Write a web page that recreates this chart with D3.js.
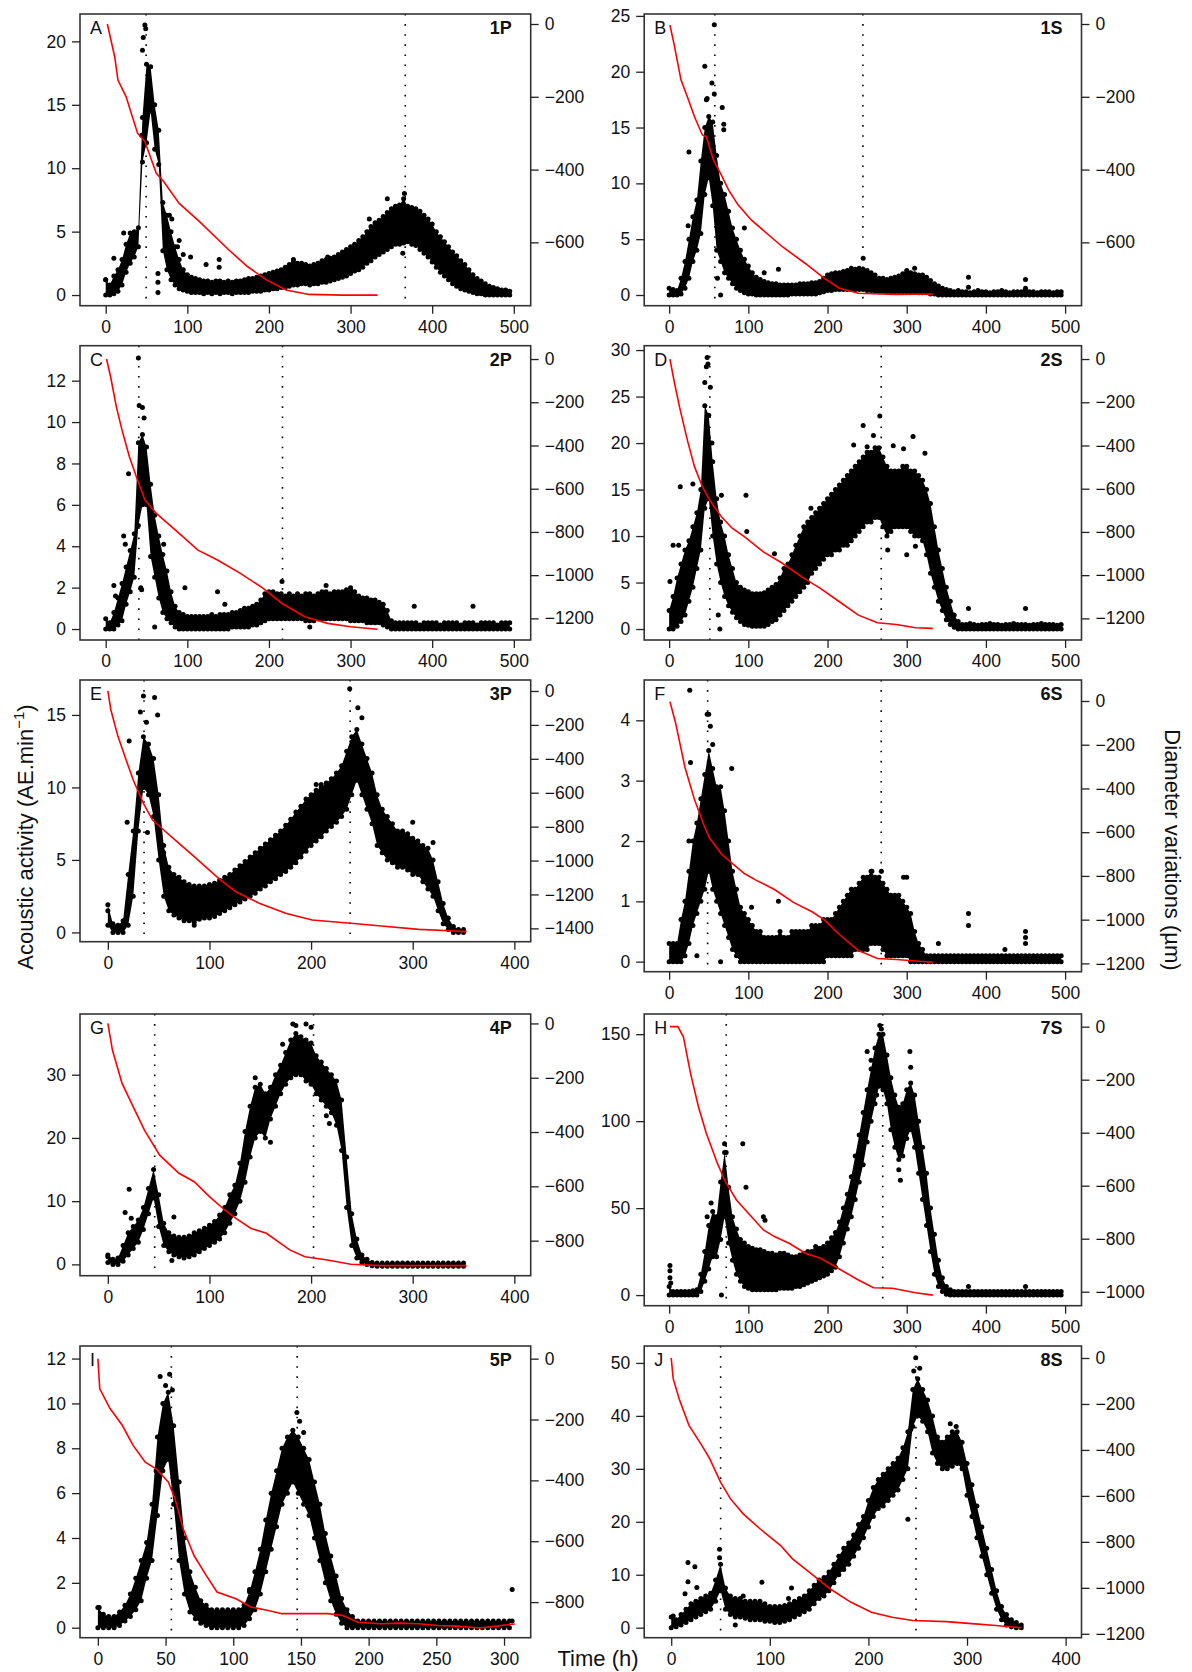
<!DOCTYPE html>
<html>
<head>
<meta charset="utf-8">
<script src="https://cdn.jsdelivr.net/npm/d3@7"></script>
<style>
  body { margin: 0; background: #fff; }
  svg text { font-family: "Liberation Sans", Arial, sans-serif; fill: #111; }
</style>
</head>
<body>
<svg id="chart" width="1192" height="1672"></svg>
<script>
/*
 * Data.
 * hi / lo: upper and lower edge of the acoustic activity cloud (AE.min-1),
 * sampled every STEP hours from t = 0. out: isolated points [t, value].
 * dia: diameter variation (um) as [t, value]. marks: dotted vertical lines (h).
 */

// A - 1P
var aHi = [1.2,0.8,1.5,2.0,2.8,4.0,4.9,5.0,5.3,14.0,
  18.2,18.0,15.0,13.0,7.3,6.3,5.0,3.8,2.8,2.0,
  1.6,1.4,1.3,1.2,1.1,1.1,1.0,1.1,1.1,1.0,
  1.1,1.0,1.1,1.1,1.2,1.3,1.3,1.4,1.5,1.6,
  1.7,1.8,1.9,2.0,2.2,2.4,2.6,2.5,2.5,2.4,
  2.3,2.4,2.5,2.7,2.8,2.9,3.0,3.2,3.4,3.6,
  3.8,4.0,4.3,4.6,5.0,5.4,5.7,5.9,6.2,6.5,
  6.8,7.0,7.1,7.6,7.0,6.9,6.8,6.6,6.3,6.0,
  5.6,5.0,4.6,4.2,3.8,3.4,3.1,2.7,2.4,2.0,
  1.6,1.3,1.1,0.9,0.7,0.6,0.5,0.4,0.4,0.3];
var aLo = [0,0,0.1,0.3,0.8,1.8,2.5,3.0,3.8,10.5,
  12.0,14.5,11.5,10.3,3.5,2.0,1.2,0.8,0.5,0.4,
  0.3,0.2,0.2,0.2,0.1,0.2,0.1,0.2,0.1,0.2,
  0.2,0.1,0.2,0.2,0.2,0.2,0.3,0.3,0.3,0.4,
  0.4,0.5,0.5,0.6,0.6,0.7,0.8,0.8,0.9,0.9,
  0.8,0.9,0.9,1.0,1.0,1.1,1.2,1.3,1.4,1.5,
  1.7,1.9,2.0,2.2,2.5,2.7,3.0,3.2,3.4,3.6,
  3.8,4.0,4.0,4.1,4.2,4.0,3.9,3.6,3.3,3.0,
  2.6,2.2,1.8,1.5,1.2,0.9,0.7,0.5,0.4,0.3,
  0.2,0.1,0.1,0,0,0,0,0,0,0];
var aOut = [[0,1.2],[10,2.9],[22,4.9],[44,12.6],[45,19.3],[46,20.3],[48,21.3],[49,21.0],
  [64,0.2],[64,1.0],[64,1.7],[78,6.3],[81,6.0],[88,3.8],[90,4.3],[95,3.2],[104,3.0],
  [123,2.4],[139,2.2],[139,2.8],[230,2.8],[272,3.0],[323,6.0],[345,7.6],[366,8.0],
  [364,3.3],[405,4.0],[420,3.5]];
var aDia = [[2,0],[11,-90],[15,-154],[25,-200],[39,-300],[48,-323],[62,-410],[71,-433],
  [90,-493],[113,-539],[151,-621],[174,-667],[197,-703],[221,-731],[249,-743],[291,-745],[333,-745]];
var aMarks = [49.5, 367];

// B - 1S
var bHi = [0.6,0.5,0.4,1.5,3.0,5.0,7.0,8.5,12.0,15.0,
  16.0,15.5,12.5,10.0,9.0,7.5,6.0,5.0,4.0,3.2,
  2.6,2.0,1.6,1.4,1.2,1.1,1.0,1.0,0.9,0.9,
  0.9,0.9,0.9,1.0,1.0,1.0,1.1,1.1,1.2,1.5,
  1.8,1.9,2.0,2.0,2.1,2.2,2.4,2.3,2.4,2.3,
  2.2,2.0,1.8,1.5,1.5,1.4,1.5,1.6,1.7,1.9,
  2.0,2.0,1.9,1.8,1.8,1.6,1.3,1.0,0.8,0.6,
  0.5,0.4,0.3,0.4,0.3,0.3,0.2,0.3,0.4,0.3,
  0.3,0.2,0.3,0.3,0.4,0.3,0.2,0.3,0.3,0.3,
  0.4,0.3,0.3,0.2,0.3,0.3,0.3,0.2,0.3,0.3];
var bLo = [0,0,0,0.1,0.6,1.5,3.0,4.0,5.5,9.0,
  10.5,8.0,4.0,3.0,2.0,1.5,1.0,0.6,0.4,0.2,
  0.1,0.1,0,0,0,0,0,0,0,0,
  0,0.1,0.1,0.1,0.1,0.1,0.1,0.1,0.2,0.3,
  0.4,0.4,0.5,0.5,0.5,0.5,0.5,0.5,0.5,0.5,
  0.4,0.4,0.3,0.3,0.3,0.3,0.3,0.3,0.3,0.3,
  0.3,0.3,0.3,0.2,0.2,0.2,0.1,0.1,0,0,
  0,0,0,0,0,0,0,0,0,0,
  0,0,0,0,0,0,0,0,0,0,
  0,0,0,0,0,0,0,0,0,0];
var bOut = [[25,12.8],[24,6.2],[45,20.5],[47,17.5],[48,17.6],[54,19.0],[57,24.2],[57,18.0],
  [67,16.8],[69,15.3],[69,14.8],[95,6.0],[61,1.5],[65,0.0],[120,2.0],[138,2.3],[245,3.3],
  [300,2.2],[310,2.4],[378,1.6],[378,0.7],[450,1.4],[450,0.6]];
var bDia = [[1,-3],[6,-53],[15,-154],[23,-200],[32,-255],[42,-305],[47,-310],[56,-374],[66,-415],
  [75,-456],[87,-497],[104,-539],[143,-612],[172,-658],[196,-699],[215,-726],[239,-740],[287,-743],[333,-742]];
var bMarks = [57.7, 244.7];

// C - 2P
var cHi = [0.5,0.3,0.8,1.5,2.2,3.0,3.8,4.6,9.0,9.4,
  8.8,7.0,5.5,4.5,3.6,2.8,1.8,1.1,0.8,0.7,
  0.6,0.6,0.6,0.6,0.6,0.6,0.7,0.6,0.7,0.7,
  0.7,0.8,0.8,0.9,1.0,1.0,1.1,1.2,1.4,1.7,
  1.8,1.8,1.7,1.7,1.6,1.7,1.6,1.7,1.6,1.7,
  1.7,1.6,1.7,1.8,1.8,1.7,1.8,1.8,1.8,1.9,
  1.9,1.8,1.6,1.5,1.5,1.4,1.4,1.3,1.2,0.9,
  0.4,0.3,0.3,0.3,0.3,0.3,0.3,0.2,0.3,0.3,
  0.3,0.3,0.2,0.3,0.3,0.3,0.3,0.2,0.3,0.3,
  0.3,0.2,0.3,0.3,0.3,0.3,0.2,0.3,0.3,0.3];
var cLo = [0,0,0,0.2,0.4,1.2,1.8,2.5,5.0,6.0,
  6.0,3.5,2.5,1.5,0.8,0.5,0.3,0.1,0,0,
  0,0,0,0,0,0,0,0,0,0,
  0,0.1,0.1,0.1,0.1,0.1,0.2,0.2,0.3,0.4,
  0.5,0.5,0.5,0.5,0.5,0.5,0.5,0.5,0.5,0.4,
  0.4,0.4,0.5,0.5,0.5,0.5,0.5,0.5,0.5,0.5,
  0.4,0.4,0.4,0.4,0.3,0.3,0.3,0.3,0.2,0.1,
  0,0,0,0,0,0,0,0,0,0,
  0,0,0,0,0,0,0,0,0,0,
  0,0,0,0,0,0,0,0,0,0];
var cOut = [[10,2.1],[12,1.6],[22,4.5],[24,4.1],[28,7.5],[40,13.1],[41,10.8],[45,10.7],[47,10.2],
  [43,2.0],[44,1.9],[60,0.1],[71,4.1],[97,2.0],[137,1.8],[146,1.2],[216,2.3],[250,0.1],
  [270,2.1],[300,2.0],[378,1.1],[450,1.1]];
var cDia = [[1,0],[6,-82],[13,-220],[20,-329],[29,-452],[39,-560],[48,-652],[62,-714],[76,-760],
  [90,-807],[113,-884],[137,-930],[165,-992],[193,-1061],[216,-1131],[244,-1192],[272,-1223],[300,-1239],[333,-1250]];
var cMarks = [40.6, 216.6];

// D - 2S
var dHi = [2.0,3.5,5.5,7.0,8.5,9.5,11.0,12.5,15.0,24.0,
  23.0,18.0,14.0,11.5,10.0,8.0,6.5,5.0,4.5,4.2,
  4.0,3.8,3.8,3.8,3.9,4.2,4.5,4.8,5.5,6.5,
  7.0,8.0,9.0,10.0,11.0,11.5,12.0,12.5,13.0,13.5,
  14.0,14.5,15.0,15.5,16.0,16.5,17.0,17.5,18.0,18.5,
  19.0,19.0,19.5,19.5,18.5,17.5,17.0,17.0,17.0,17.5,
  17.5,17.0,17.0,16.5,16.0,15.0,13.5,11.0,8.5,6.5,
  4.5,3.0,1.5,0.8,0.5,0.5,0.6,0.5,0.4,0.5,
  0.5,0.6,0.5,0.5,0.4,0.5,0.5,0.6,0.5,0.5,
  0.5,0.4,0.5,0.5,0.6,0.5,0.5,0.5,0.4,0.5];
var dLo = [0,0,0.3,0.8,1.5,3.0,4.5,6.5,8.5,13.0,
  14.0,10.0,7.0,5.0,3.5,2.5,1.8,1.2,0.8,0.5,
  0.4,0.3,0.3,0.3,0.3,0.5,0.8,1.0,1.5,2.0,
  2.5,3.0,3.5,4.0,4.5,5.0,6.0,6.5,7.0,7.5,
  8.0,8.0,8.5,8.5,9.0,9.0,9.5,10.0,10.5,11.0,
  11.5,11.5,12.0,12.0,11.0,10.0,10.5,11.0,11.0,11.0,
  11.0,10.5,10.0,10.0,9.5,8.0,6.0,4.5,3.0,2.0,
  1.0,0.5,0.2,0,0,0,0,0,0,0,
  0,0,0,0,0,0,0,0,0,0,
  0,0,0,0,0,0,0,0,0,0];
var dOut = [[1,5.1],[5,9.0],[12,9.0],[14,15.3],[30,15.6],[45,26.5],[47,28.2],[48,29.2],[49,28.5],
  [52,26.0],[54,20.0],[66,14.4],[62,1.5],[64,0.0],[97,14.4],[98,10.5],[133,8.1],[179,13.0],
  [210,14.5],[233,19.8],[245,21.9],[250,19.6],[258,20.8],[266,22.9],[276,8.5],[283,19.7],
  [296,19.4],[308,20.7],[323,18.9],[311,8.9],[300,8.0],[378,2.2],[450,2.2]];
var dDia = [[1,0],[6,-97],[13,-220],[23,-375],[32,-498],[42,-591],[51,-652],[66,-730],[80,-784],
  [95,-822],[119,-892],[143,-945],[167,-1007],[191,-1061],[215,-1123],[239,-1185],[263,-1220],
  [287,-1228],[311,-1243],[333,-1246]];
var dMarks = [51.4, 267.8];

// E - 3P
var eHi = [1.9,0.6,0.5,0.8,4.0,7.0,11.0,13.5,13.0,12.0,
  9.5,6.0,4.5,4.0,3.8,3.5,3.3,3.2,3.2,3.2,
  3.3,3.4,3.6,3.8,4.0,4.3,4.6,4.9,5.2,5.5,
  5.8,6.1,6.4,6.7,7.0,7.4,7.8,8.3,8.7,9.2,
  9.5,9.8,10.0,10.3,10.6,11.0,11.5,12.5,13.5,14.0,
  13.0,12.0,11.0,9.5,8.5,8.0,7.5,7.0,7.0,6.8,
  6.5,6.3,6.0,5.8,5.0,3.5,2.0,1.0,0.4,0.2,
  0.2];
var eLo = [0.5,0,0,0,0.5,2.5,7.0,10.0,9.5,8.0,
  5.0,2.5,1.5,1.2,1.0,0.8,0.8,0.7,0.9,1.0,
  1.0,1.1,1.3,1.5,1.7,1.9,2.1,2.3,2.5,2.7,
  3.0,3.2,3.5,3.7,4.0,4.2,4.5,4.8,5.2,5.6,
  6.0,6.3,6.6,7.0,7.3,7.6,8.0,8.5,9.5,10.5,
  9.5,8.5,7.5,6.0,5.5,5.0,4.8,4.5,4.5,4.3,
  4.0,4.0,3.5,3.0,2.5,1.5,0.6,0.2,0,0,
  0];
var eOut = [[0,1.5],[19,7.6],[21,13.2],[35,16.3],[32,15.2],[38,14.5],[46,16.2],[49,15.0],[39,6.9],
  [55,5.5],[85,0.5],[149,5.5],[205,10.2],[210,10.2],[238,16.8],[246,15.5],[250,14.8],[300,7.6],[320,6.2]];
var eDia = [[0,0],[3,-112],[10,-269],[18,-407],[25,-525],[35,-663],[44,-761],[55,-820],[70,-899],
  [85,-977],[96,-1036],[111,-1115],[126,-1184],[149,-1252],[175,-1311],[201,-1351],[239,-1370],
  [269,-1386],[306,-1406],[336,-1414],[353,-1419]];
var eMarks = [35.6, 238.4];

// F - 6S
var fHi = [0.3,0.3,0.3,0.7,1.0,1.5,2.0,2.3,2.7,3.1,
  3.5,3.2,2.9,2.9,2.5,2.0,1.5,1.2,0.9,0.8,
  0.7,0.6,0.5,0.5,0.4,0.4,0.4,0.4,0.5,0.4,
  0.4,0.5,0.5,0.5,0.5,0.5,0.6,0.6,0.6,0.7,
  0.7,0.7,0.8,0.9,1.0,1.1,1.2,1.2,1.3,1.4,
  1.4,1.5,1.4,1.4,1.3,1.2,1.1,1.1,1.1,1.0,
  0.9,0.8,0.5,0.3,0.2,0.1,0.1,0.1,0.1,0.1,
  0.1,0.1,0.1,0.1,0.1,0.1,0.1,0.1,0.1,0.1,
  0.1,0.1,0.1,0.1,0.1,0.1,0.1,0.1,0.1,0.1,
  0.1,0.1,0.1,0.1,0.1,0.1,0.1,0.1,0.1,0.1];
var fLo = [0,0,0,0,0.1,0.3,0.6,0.8,1.0,1.2,
  1.5,1.2,1.0,0.8,0.6,0.4,0.2,0.1,0,0,
  0,0,0,0,0,0,0,0,0,0,
  0,0,0,0,0,0,0,0,0,0,
  0.1,0.1,0.1,0.1,0.1,0.1,0.1,0.2,0.2,0.2,
  0.2,0.3,0.3,0.3,0.2,0.1,0.1,0.1,0.1,0.1,
  0.1,0,0,0,0,0,0,0,0,0,
  0,0,0,0,0,0,0,0,0,0,
  0,0,0,0,0,0,0,0,0,0,
  0,0,0,0,0,0,0,0,0,0];
var fOut = [[26,4.5],[27,3.3],[25,2.0],[35,0.1],[48,4.1],[50,4.1],[52,3.9],[55,3.6],[79,3.2],
  [65,0.0],[104,0.9],[138,1.0],[268,1.5],[256,1.5],[296,1.4],[300,1.4],[340,0.3],[378,0.8],
  [378,0.6],[424,0.2],[450,0.5],[450,0.4],[450,0.3]];
var fDia = [[1,-3],[8,-98],[20,-304],[32,-451],[44,-568],[51,-627],[66,-700],[80,-744],[95,-789],
  [109,-818],[133,-862],[157,-921],[181,-965],[196,-1001],[215,-1068],[239,-1141],[263,-1178],
  [287,-1182],[311,-1189],[333,-1195]];
var fMarks = [48.6, 267.8];

// G - 4P
var gHi = [1.5,0.8,1.0,3.0,5.0,6.0,7.0,9.0,12.0,15.0,
  11.0,6.5,5.0,4.5,4.3,4.3,4.5,5.0,5.3,5.7,
  6.2,6.8,7.8,9.0,11.0,12.5,16.0,21.0,25.0,28.0,
  28.5,27.0,28.0,30.0,31.5,33.5,35.5,36.5,36.0,35.5,
  35.0,33.0,32.0,31.0,30.0,29.0,26.0,17.0,8.0,4.0,
  1.5,0.8,0.3,0.2,0.2,0.2,0.2,0.2,0.2,0.2,
  0.2,0.2,0.2,0.2,0.2,0.2,0.2,0.2,0.2,0.2,
  0.2];
var gLo = [0.3,0,0,0.5,1.5,2.5,3.5,5.5,8.0,10.5,
  6.0,3.0,2.0,1.5,1.2,1.0,1.2,1.5,2.0,2.5,
  3.0,3.5,4.0,5.0,6.5,8.0,10.0,13.0,17.0,20.0,
  21.0,20.0,23.0,25.0,27.0,28.5,29.5,30.0,30.0,29.0,
  28.5,27.0,26.0,25.0,24.0,22.0,18.0,9.0,3.0,1.0,
  0.3,0,-0.2,-0.3,-0.3,-0.3,-0.3,-0.3,-0.3,-0.3,
  -0.3,-0.3,-0.3,-0.3,-0.3,-0.3,-0.3,-0.3,-0.3,-0.3,
  -0.3];
var gOut = [[0,1.2],[17,8.2],[21,11.9],[23,7.3],[65,7.5],[63,0.6],[145,29.5],[160,19.3],
  [172,34.8],[182,38.0],[185,37.8],[195,38.0],[200,37.5],[215,23.5],[218,22.3]];
var gDia = [[0,0],[4.5,-98],[14,-221],[25,-307],[36,-393],[51,-485],[70,-552],[85,-583],[100,-638],
  [115,-687],[126,-718],[141,-755],[156,-773],[179,-834],[194,-859],[216,-871],[239,-887],
  [269,-892],[306,-892],[353,-892]];
var gMarks = [46.1, 202.4];

// H - 7S
var hHi = [5.0,2.0,2.0,2.0,2.0,2.0,2.5,3.0,12.0,25.0,
  40.0,48.0,45.0,65.0,82.0,62.0,45.0,38.0,32.0,30.0,
  28.0,27.0,26.0,26.0,25.0,24.0,24.0,23.0,24.0,24.0,
  23.0,22.0,22.0,23.0,24.0,25.0,25.0,26.0,27.0,28.0,
  30.0,33.0,36.0,42.0,50.0,58.0,68.0,80.0,92.0,105.0,
  118.0,130.0,142.0,150.0,150.0,138.0,125.0,115.0,108.0,110.0,
  118.0,122.0,115.0,100.0,85.0,70.0,50.0,35.0,20.0,10.0,
  5.0,3.0,2.0,2.0,2.0,2.0,2.0,2.0,2.0,2.0,
  2.0,2.0,2.0,2.0,2.0,2.0,2.0,2.0,2.0,2.0,
  2.0,2.0,2.0,2.0,2.0,2.0,2.0,2.0,2.0,2.0];
var hLo = [0,0,0,0,0,0,0,0,2.0,8.0,
  15.0,22.0,22.0,32.0,45.0,30.0,20.0,12.0,8.0,5.0,
  4.0,3.0,3.0,3.0,3.0,3.0,3.0,3.0,4.0,4.0,
  4.0,4.0,5.0,5.0,6.0,7.0,8.0,9.0,10.0,11.0,
  12.0,14.0,16.0,22.0,30.0,38.0,45.0,55.0,65.0,75.0,
  88.0,100.0,110.0,120.0,118.0,110.0,95.0,85.0,78.0,80.0,
  90.0,95.0,85.0,70.0,55.0,40.0,25.0,12.0,5.0,2.0,
  0.5,0,0,0,0,0,0,0,0,0,
  0,0,0,0,0,0,0,0,0,0,
  0,0,0,0,0,0,0,0,0,0];
var hOut = [[1,17.0],[1,14.0],[1,10.0],[2,7.0],[48,45.0],[53,53.0],[66,0.0],[70,87.0],[72,82.0],
  [93,87.0],[97,62.0],[119,45.0],[121,43.0],[185,28.0],[250,140.0],[255,135.0],[266,155.0],
  [268,153.0],[262,115.0],[290,72.0],[292,66.0],[304,140.0],[305,131.0],[378,5.0],[450,5.0]];
var hDia = [[1,0],[11,0],[18,-38],[27,-176],[37,-302],[47,-403],[61,-516],[71,-585],[85,-654],
  [104,-717],[119,-767],[133,-792],[152,-818],[172,-855],[191,-874],[210,-906],[239,-956],
  [258,-985],[282,-987],[311,-1004],[333,-1013]];
var hMarks = [72.1, 269.7];

// I - 5P (sampled every 4 h)
var iHi = [0.9,0.6,0.5,0.5,0.7,1.0,1.5,2.2,3.0,3.8,
  5.5,8.5,10.0,10.5,9.0,6.5,4.0,2.5,1.8,1.2,
  1.0,0.8,0.8,0.8,0.8,0.8,0.8,1.0,1.6,2.5,
  3.5,4.8,6.0,7.0,8.0,8.5,8.8,8.5,8.0,7.5,
  6.5,5.5,4.2,3.2,2.3,1.3,0.8,0.5,0.3,0.3,
  0.3,0.3,0.3,0.3,0.3,0.3,0.3,0.3,0.3,0.3,
  0.3,0.3,0.3,0.3,0.3,0.3,0.3,0.3,0.3,0.3,
  0.3,0.3,0.3,0.3,0.3,0.3,0.3];
var iLo = [0,0,0,0,0.1,0.3,0.5,0.8,1.2,2.2,
  3.0,5.0,7.0,7.5,5.5,3.0,1.5,0.7,0.4,0.2,
  0.1,0,0,0,0,0,0,0.1,0.4,0.8,
  1.5,2.5,3.5,4.5,5.5,6.0,6.5,6.0,5.5,5.0,
  4.0,3.0,2.0,1.2,0.6,0.2,0,0,0,0,
  0,0,0,0,0,0,0,0,0,0,
  0,0,0,0,0,0,0,0,0,0,
  0,0,0,0,0,0,0];
var iOut = [[1,0.9],[43,7.0],[46,11.2],[50,10.8],[53,11.3],[55,10.6],[112,1.7],[130,5.1],
  [147,9.6],[149,9.2],[152,8.7],[306,1.7],[306,0.3]];
var iDia = [[0,0],[1.4,-99],[9,-164],[18,-219],[26,-285],[35,-340],[43,-362],[52,-405],[57,-460],
  [63,-559],[71,-647],[80,-712],[88,-767],[102,-789],[113,-816],[125,-827],[136,-838],[153,-838],
  [170,-838],[181,-844],[192,-866],[209,-871],[223,-869],[237,-871],[251,-877],[265,-879],
  [282,-885],[294,-879],[308,-872]];
var iMarks = [54.3, 147.2];

// J - 8S
var jHi = [2.0,1.5,2.5,3.5,4.5,5.0,5.5,6.0,6.5,9.0,
  12.0,7.5,6.0,5.5,5.5,5.0,5.0,5.0,5.0,4.5,
  4.0,4.0,4.0,4.2,4.5,5.0,5.5,6.0,7.0,8.0,
  9.0,9.5,10.5,12.0,13.5,15.0,16.0,17.5,19.5,21.0,
  24.0,26.5,28.0,29.0,30.0,31.0,32.0,34.0,37.0,45.0,
  47.0,45.0,43.0,40.0,36.0,35.0,36.0,37.0,37.0,35.0,
  31.0,27.0,23.0,19.0,15.0,11.0,7.0,4.0,2.5,1.5,
  1.0,0.5];
var jLo = [0,0.2,0.5,1.0,1.5,2.0,2.5,3.0,3.5,5.0,
  7.0,3.5,2.5,2.0,2.0,1.8,1.5,1.5,1.5,1.2,
  1.2,1.0,1.0,1.2,1.5,2.0,2.5,3.0,3.5,4.5,
  5.5,6.0,7.0,8.5,10.0,11.0,12.0,13.5,15.0,17.0,
  19.0,21.0,22.5,23.0,24.0,25.0,26.0,28.0,30.0,38.0,
  40.0,39.0,37.0,33.0,31.0,30.0,30.0,30.5,31.0,30.0,
  25.0,21.0,17.0,13.5,10.0,6.5,3.5,1.5,0.5,0.2,
  0,0];
var jOut = [[2,2.2],[14,6.4],[17,12.3],[17,8.7],[24,11.5],[26,7.6],[49,14.8],[49,13.2],[65,0.5],
  [73,6.0],[92,8.6],[119,5.5],[122,7.5],[239,33.0],[240,20.5],[243,37.5],[246,48.5],[248,51.0],
  [252,49.0],[283,38.5],[289,38.0]];
var jDia = [[0,0],[2,-90],[8,-177],[18,-293],[31,-380],[39,-438],[50,-540],[60,-612],[73,-678],
  [90,-743],[111,-816],[123,-874],[140,-932],[161,-1004],[182,-1062],[203,-1106],[224,-1128],
  [245,-1142],[279,-1147],[308,-1157],[329,-1164],[355,-1174]];
var jMarks = [50.1, 248.2];

// Tick labels
var X500 = [0, 100, 200, 300, 400, 500];
var X400 = [0, 100, 200, 300, 400];
var X300 = [0, 50, 100, 150, 200, 250, 300];

/*
 * Layout (pixels)
 */
var COLS = [[80, 530.7], [644.2, 1081.5]];
var FONT = 17.5;
var TICK = 8;

var svg = d3.select("#chart");

var panels = [
  { id: "A", tag: "1P", col: 0, top: 14, bottom: 305.7, step: 5, hi: aHi, lo: aLo, out: aOut, dia: aDia, marks: aMarks,
    xDom: [-31.5, 520.7], xT: X500, yL: [-0.84, 22.16], yLT: [0, 5, 10, 15, 20], yR: [-774, 27.5], yRT: [0, -200, -400, -600] },
  { id: "B", tag: "1S", col: 1, top: 14, bottom: 305.7, step: 5, hi: bHi, lo: bLo, out: bOut, dia: bDia, marks: bMarks,
    xDom: [-31.5, 520.7], xT: X500, yL: [-0.957, 25.17], yLT: [0, 5, 10, 15, 20, 25], yR: [-774, 27.5], yRT: [0, -200, -400, -600] },
  { id: "C", tag: "2P", col: 0, top: 345.7, bottom: 640, step: 5, hi: cHi, lo: cLo, out: cOut, dia: cDia, marks: cMarks,
    xDom: [-31.5, 520.7], xT: X500, yL: [-0.53, 13.69], yLT: [0, 2, 4, 6, 8, 10, 12], yR: [-1300, 61.7], yRT: [0, -200, -400, -600, -800, -1000, -1200] },
  { id: "D", tag: "2S", col: 1, top: 345.7, bottom: 640, step: 5, hi: dHi, lo: dLo, out: dOut, dia: dDia, marks: dMarks,
    xDom: [-31.5, 520.7], xT: X500, yL: [-1.18, 30.47], yLT: [0, 5, 10, 15, 20, 25, 30], yR: [-1300, 61.7], yRT: [0, -200, -400, -600, -800, -1000, -1200] },
  { id: "E", tag: "3P", col: 0, top: 680, bottom: 941.7, step: 5, hi: eHi, lo: eLo, out: eOut, dia: eDia, marks: eMarks,
    xDom: [-27.4, 416.1], xT: X400, yL: [-0.64, 17.41], yLT: [0, 5, 10, 15], yR: [-1478.7, 64.8], yRT: [0, -200, -400, -600, -800, -1000, -1200, -1400] },
  { id: "F", tag: "6S", col: 1, top: 680, bottom: 971.7, step: 5, hi: fHi, lo: fLo, out: fOut, dia: fDia, marks: fMarks,
    xDom: [-31.5, 520.7], xT: X500, yL: [-0.166, 4.668], yLT: [0, 1, 2, 3, 4], yR: [-1238, 96], yRT: [0, -200, -400, -600, -800, -1000, -1200] },
  { id: "G", tag: "4P", col: 0, top: 1014, bottom: 1275.7, step: 5, hi: gHi, lo: gLo, out: gOut, dia: gDia, marks: gMarks,
    xDom: [-27.4, 416.1], xT: X400, yL: [-1.79, 39.6], yLT: [0, 10, 20, 30], yR: [-929, 34.7], yRT: [0, -200, -400, -600, -800] },
  { id: "H", tag: "7S", col: 1, top: 1014, bottom: 1305.7, step: 5, hi: hHi, lo: hLo, out: hOut, dia: hDia, marks: hMarks,
    xDom: [-31.5, 520.7], xT: X500, yL: [-6.1, 161.6], yLT: [0, 50, 100, 150], yR: [-1052.8, 47.8], yRT: [0, -200, -400, -600, -800, -1000] },
  { id: "I", tag: "5P", col: 0, top: 1346, bottom: 1637.7, step: 4, hi: iHi, lo: iLo, out: iOut, dia: iDia, marks: iMarks,
    xDom: [-13.2, 319.7], xT: X300, yL: [-0.446, 12.56], yLT: [0, 2, 4, 6, 8, 10, 12], yR: [-917, 41.6], yRT: [0, -200, -400, -600, -800] },
  { id: "J", tag: "8S", col: 1, top: 1346, bottom: 1637.7, step: 5, hi: jHi, lo: jLo, out: jOut, dia: jDia, marks: jMarks,
    xDom: [-27.4, 416.1], xT: X400, yL: [-1.89, 53.2], yLT: [0, 10, 20, 30, 40, 50], yR: [-1217, 52.2], yRT: [0, -200, -400, -600, -800, -1000, -1200] }
];

function style_axis(sel) {
  sel.select(".domain").remove();
  sel.attr("font-size", FONT)
    .attr("font-family", "\"Liberation Sans\", Arial, sans-serif")
    .attr("color", "#222");
  sel.selectAll(".tick line").attr("stroke-width", 1.3);
}

function draw_panel(p) {
  var x0 = COLS[p.col][0], x1 = COLS[p.col][1];
  var x = d3.scaleLinear().domain(p.xDom).range([x0, x1]);
  var yl = d3.scaleLinear().domain(p.yL).range([p.bottom, p.top]);
  var yr = d3.scaleLinear().domain(p.yR).range([p.bottom, p.top]);

  var g = svg.append("g").attr("class", "panel");
  var cid = "clip" + p.id;
  g.append("clipPath").attr("id", cid)
    .append("rect")
      .attr("x", x0).attr("y", p.top)
      .attr("width", x1 - x0).attr("height", p.bottom - p.top);
  var plot = g.append("g").attr("clip-path", "url(#" + cid + ")");

  // acoustic activity cloud
  var rows = p.hi.map(function (v, i) { return { t: i * p.step, hi: v, lo: p.lo[i] }; });
  plot.append("path")
    .datum(rows)
    .attr("d", d3.area().x(d => x(d.t)).y0(d => yl(d.lo)).y1(d => yl(d.hi)))
    .attr("fill", "#000");
  var pts = [];
  rows.forEach(function (d) { pts.push([d.t, d.hi]); pts.push([d.t, d.lo]); });
  pts = pts.concat(p.out);
  plot.selectAll("circle.pt")
    .data(pts)
    .enter().append("circle")
      .attr("class", "pt")
      .attr("cx", d => x(d[0]))
      .attr("cy", d => yl(d[1]))
      .attr("r", 2.5)
      .attr("fill", "#000");

  // dotted markers
  plot.selectAll("line.mark")
    .data(p.marks)
    .enter().append("line")
      .attr("class", "mark")
      .attr("x1", d => x(d)).attr("x2", d => x(d))
      .attr("y1", p.top).attr("y2", p.bottom)
      .attr("stroke", "#000")
      .attr("stroke-width", 1.6)
      .attr("stroke-dasharray", "1.6,8.5");

  // diameter variation
  plot.append("path")
    .datum(p.dia)
    .attr("d", d3.line().x(d => x(d[0])).y(d => yr(d[1])))
    .attr("fill", "none")
    .attr("stroke", "#ff0000")
    .attr("stroke-width", 1.6);

  // box
  g.append("rect")
    .attr("x", x0).attr("y", p.top)
    .attr("width", x1 - x0).attr("height", p.bottom - p.top)
    .attr("fill", "none")
    .attr("stroke", "#333")
    .attr("stroke-width", 1.6);

  // axes
  g.append("g")
    .attr("transform", "translate(0," + p.bottom + ")")
    .call(d3.axisBottom(x).tickValues(p.xT).tickSize(TICK).tickPadding(7).tickFormat(d3.format("d")))
    .call(style_axis);
  g.append("g")
    .attr("transform", "translate(" + x0 + ",0)")
    .call(d3.axisLeft(yl).tickValues(p.yLT).tickSize(TICK).tickPadding(6).tickFormat(d3.format("d")))
    .call(style_axis);
  g.append("g")
    .attr("transform", "translate(" + x1 + ",0)")
    .call(d3.axisRight(yr).tickValues(p.yRT).tickSize(TICK).tickPadding(6).tickFormat(d3.format("d")))
    .call(style_axis);

  // panel letters
  g.append("text")
    .attr("x", x0 + 10).attr("y", p.top + 20)
    .attr("font-size", 18)
    .text(p.id);
  g.append("text")
    .attr("x", x1 - 19).attr("y", p.top + 20)
    .attr("font-size", 18)
    .attr("font-weight", "bold")
    .attr("text-anchor", "end")
    .text(p.tag);
}

panels.forEach(draw_panel);

// axis titles
var yt = svg.append("text")
  .attr("transform", "translate(33,837) rotate(-90)")
  .attr("text-anchor", "middle")
  .attr("font-size", 22);
yt.append("tspan").text("Acoustic activity (AE.min");
yt.append("tspan").attr("font-size", 15).attr("dy", -9).text("\u22121");
yt.append("tspan").attr("dy", 9).text(")");

svg.append("text")
  .attr("transform", "translate(1165,850) rotate(90)")
  .attr("text-anchor", "middle")
  .attr("font-size", 22)
  .text("Diameter variations (\u00b5m)");

svg.append("text")
  .attr("x", 598).attr("y", 1666)
  .attr("text-anchor", "middle")
  .attr("font-size", 22)
  .text("Time (h)");
</script>
</body>
</html>
